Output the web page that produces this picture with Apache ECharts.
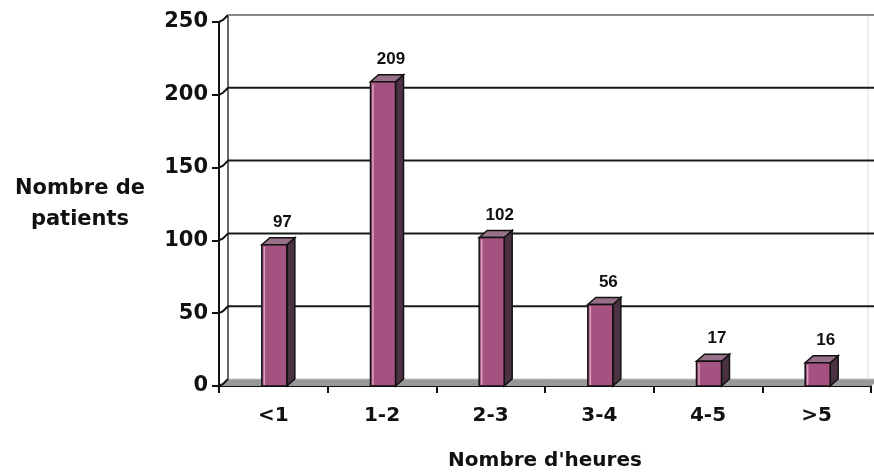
<!DOCTYPE html>
<html>
<head>
<meta charset="utf-8">
<script src="https://cdn.jsdelivr.net/npm/echarts@6/dist/echarts.min.js"></script>
<style>html,body{margin:0;padding:0;background:#fff}#c{width:874px;height:476px}</style>
</head>
<body>
<div id="c"></div>
<script>
const categories = ['<1', '1-2', '2-3', '3-4', '4-5', '>5'];
const patients = [97, 209, 102, 56, 17, 16];
const yTicks = [0, 50, 100, 150, 200, 250];
const yMax = 250;
const yStep = 50;

const DX = 9, DY = -7;       // wall depth
const BDX = 8, BDY = -7;     // bar depth
const BW = 25;               // bar front width

const chart = echarts.init(document.getElementById('c'), null, {renderer: 'canvas'});

const axisFont = 'DejaVu Sans';

const option = {
  backgroundColor: '#ffffff',
  animation: false,
  grid: {left: 219, right: 3, top: 22, bottom: 88, containLabel: false},
  xAxis: {
    type: 'category',
    data: categories,
    boundaryGap: true,
    axisLine: {show: true, lineStyle: {color: '#111', width: 2}},
    axisTick: {show: true, inside: false, length: 7, alignWithLabel: false, lineStyle: {color: '#111', width: 2}},
    axisLabel: {color: '#111', fontFamily: axisFont, fontWeight: 'bold', fontSize: 20, margin: 20},
    splitLine: {show: false},
    name: "Nombre d'heures",
    nameLocation: 'middle',
    nameGap: 65,
    nameTextStyle: {color: '#111', fontFamily: axisFont, fontWeight: 'bold', fontSize: 20}
  },
  yAxis: {
    type: 'value',
    min: 0,
    max: yMax,
    interval: yStep,
    axisLine: {show: true, lineStyle: {color: '#111', width: 2}},
    axisTick: {show: true, inside: false, length: 7, lineStyle: {color: '#111', width: 2}},
    axisLabel: {color: '#111', fontFamily: axisFont, fontWeight: 'bold', fontSize: 21, margin: 11},
    splitLine: {show: false},
    name: 'Nombre de\npatients',
    nameLocation: 'middle',
    nameRotate: 0,
    nameGap: 139,
    nameTextStyle: {color: '#111', fontFamily: axisFont, fontWeight: 'bold', fontSize: 21, lineHeight: 31, align: 'center', verticalAlign: 'middle'}
  },
  series: [
    {
      // back wall + floor
      type: 'custom',
      z: 1,
      silent: true,
      data: [[0, 0]],
      renderItem: function (params, api) {
        const cs = params.coordSys;
        const y0 = api.coord([0, 0])[1];
        const yT = api.coord([0, yMax])[1];
        const xL = cs.x, xR = cs.x + cs.width;
        return {
          type: 'group',
          children: [
            {type: 'polygon', shape: {points: [[xL, y0], [xL + DX, y0 + DY], [xR + DX, y0 + DY], [xR, y0]]},
             style: {fill: '#999999', stroke: null}},
            {type: 'line', shape: {x1: xL + DX, y1: y0 + DY, x2: xR + DX, y2: y0 + DY},
             style: {stroke: '#c4c4c4', lineWidth: 1}},
            {type: 'line', shape: {x1: xL + DX, y1: yT + DY, x2: xL + DX, y2: y0 + DY},
             style: {stroke: '#333', lineWidth: 1.5}},
            {type: 'line', shape: {x1: xR - 3, y1: yT + DY, x2: xR - 3, y2: y0 + DY},
             style: {stroke: '#ddd', lineWidth: 1}}
          ]
        };
      }
    },
    {
      // gridlines on back wall with diagonal connectors
      type: 'custom',
      z: 2,
      silent: true,
      data: yTicks.map(v => [0, v]),
      renderItem: function (params, api) {
        const cs = params.coordSys;
        const v = api.value(1);
        const y = api.coord([0, v])[1];
        const xL = cs.x, xR = cs.x + cs.width;
        const children = [
          {type: 'polyline', shape: {points: [[xL, y], [xL + 4, y - 2], [xL + DX, y + DY]]},
           style: {stroke: '#111', lineWidth: 2, fill: null}}
        ];
        if (v > 0) {
          children.push({type: 'line', shape: {x1: xL + DX, y1: y + DY, x2: xR + DX, y2: y + DY},
            style: {stroke: v === yMax ? '#8a8a8a' : '#1a1a1a', lineWidth: 2}});
        }
        return {type: 'group', children: children};
      }
    },
    {
      // 3D bars
      type: 'custom',
      z: 5,
      data: patients.map((v, i) => [i, v]),
      renderItem: function (params, api) {
        const i = api.value(0);
        const v = api.value(1);
        const pb = api.coord([i, 0]);
        const pt = api.coord([i, v]);
        const xl = pb[0] - BW / 2 + 1;
        const xr = xl + BW;
        const yt = pt[1], yb = pb[1];
        return {
          type: 'group',
          children: [
            {type: 'polygon', shape: {points: [[xr, yt], [xr + BDX, yt + BDY], [xr + BDX, yb + BDY], [xr, yb]]},
             style: {fill: '#4a3242', stroke: '#111', lineWidth: 1.5}},
            {type: 'polygon', shape: {points: [[xl, yt], [xl + BDX, yt + BDY], [xr + BDX, yt + BDY], [xr, yt]]},
             style: {fill: '#977089', stroke: '#111', lineWidth: 1.5}},
            {type: 'rect', shape: {x: xl, y: yt, width: BW, height: yb - yt},
             style: {fill: '#a4527f', stroke: '#111', lineWidth: 1.5}},
            {type: 'line', shape: {x1: xl + 2.5, y1: yt + 2, x2: xl + 2.5, y2: yb - 1},
             style: {stroke: '#dca0c0', lineWidth: 1.5}},
            {type: 'text', style: {text: String(v), x: pb[0] + 9, y: yt + BDY - 7,
              align: 'center', verticalAlign: 'bottom',
              font: 'bold 17px "Liberation Sans", Arial, sans-serif', fill: '#111'}}
          ]
        };
      }
    }
  ]
};
chart.setOption(option);
</script>
</body>
</html>
